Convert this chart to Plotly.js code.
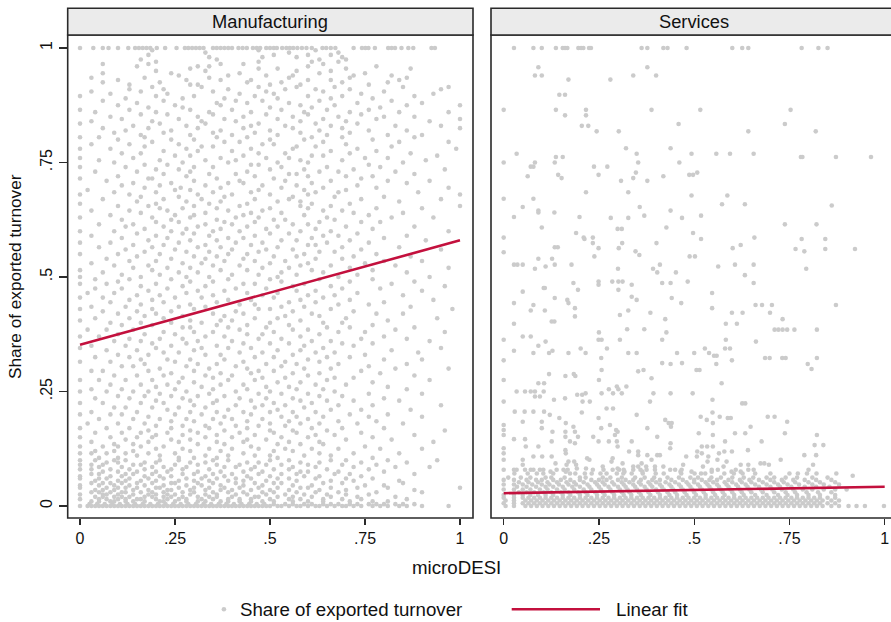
<!DOCTYPE html>
<html><head><meta charset="utf-8">
<script src="https://cdn.plot.ly/plotly-3.0.1.min.js"></script>
<style>html,body{margin:0;padding:0;background:#fff}#chart{width:891px;height:622px}</style>
</head><body><div id="chart"></div>
<script>
const panelTitles = ["Manufacturing", "Services"];
const xTickVals = [0, .25, .5, .75, 1];
const xTickText = ["0", ".25", ".5", ".75", "1"];
const yTickVals = [0, .25, .5, .75, 1];
const yTickText = ["0", ".25", ".5", ".75", "1"];
const xTitle = "microDESI";
const yTitle = "Share of exported turnover";
const legendLabels = ["Share of exported turnover", "Linear fit"];
const fitX = [0, 1];
const mfgFitY = [.352, .58];
const svcFitY = [.028, .042];

// Manufacturing: [share, [microDESI values]]
const mfgRows = [
[1,[0,.035,.06,.075,.1,.127,.145,.155,.165,.175,.185,.202,.224,.254,.276,.285,.295,.305,.315,.325,.35,.36,.37,.38,.39,.4,.417,.428,.439,.455,.465,.474,.49,.5,.51,.518,.532,.543,.552,.561,.572,.584,.596,.61,.638,.648,.66,.672,.72,.742,.751,.759,.776,.811,.82,.829,.846,.864,.877,.925,.934]],
[.995,[.19,.47,.62]],
[.99,[.33,.55,.68]],
[.985,[.18,.51,.6,.66]],
[.98,[.34,.48,.57,.69]],
[.975,[.16,.36,.63,.7]],
[.97,[.2,.47,.61,.68]],
[.965,[.06,.18,.37,.43,.64]],
[.96,[.15,.31,.34,.6,.78]],
[.955,[.29,.47,.52,.7,.87]],
[.95,[.2,.33,.57,.66]],
[.945,[.06,.24,.42,.63,.75]],
[.94,[.26,.39,.49,.56,.72,.82]],
[.935,[.03,.17,.34,.55,.71,.86]],
[.93,[.1,.28,.37,.45,.6,.66,.84]],
[.925,[.06,.21,.44,.53,.69,.81]],
[.92,[.13,.29,.31,.5,.58,.76]],
[.915,[.19,.32,.47,.57,.67,.85,.97]],
[.91,[.13,.22,.39,.54,.62,.71,.95]],
[.905,[.03,.16,.35,.49,.64,.8]],
[.9,[.08,.23,.42,.51,.74,.93]],
[.895,[0,.2,.3,.46,.6,.69,.88]],
[.89,[.12,.27,.38,.52,.66,.77]],
[.885,[.06,.22,.41,.48,.63,.82]],
[.88,[.15,.36,.44,.55,.73,.9]],
[.875,[.1,.25,.37,.58,.67,.86,1]],
[.87,[.18,.27,.5,.61,.79]],
[.865,[0,.13,.29,.4,.53,.65,.76]],
[.86,[.04,.2,.34,.45,.59,.71,.84,.97]],
[.855,[.16,.23,.35,.49,.6,.74]],
[.85,[.08,.31,.43,.56,.68,.8,.88]],
[.845,[.11,.26,.38,.52,.64,.78,1]],
[.84,[.03,.19,.32,.41,.58,.7,.92]],
[.835,[0,.21,.33,.47,.62,.73]],
[.83,[.14,.28,.45,.54,.66,.83,.95]],
[.825,[.06,.18,.31,.43,.56,.69,1]],
[.82,[.12,.24,.37,.5,.63,.76,.86]],
[.815,[.09,.22,.35,.46,.58,.71]],
[.81,[.16,.29,.4,.52,.65,.81,.9]],
[.805,[0,.05,.17,.36,.44,.61,.69,.88]],
[.8,[.1,.24,.3,.5,.59,.77]],
[.795,[.19,.38,.42,.64,.84,.97]],
[.79,[.03,.13,.26,.48,.51,.7]],
[.785,[.17,.32,.35,.57,.62,.82]],
[.78,[0,.08,.28,.45,.56,.73,.99]],
[.775,[.22,.31,.4,.66,.78]],
[.77,[.11,.16,.47,.54,.71,.87]],
[.765,[.25,.29,.43,.61,.64,.94]],
[.76,[0,.14,.37,.49,.55,.75,.81]],
[.755,[.05,.21,.33,.41,.58,.69,.91]],
[.75,[.09,.27,.39,.52,.6,.85]],
[.745,[.17,.23,.45,.47,.76]],
[.74,[0,.12,.3,.35,.53,.65,.79]],
[.735,[.2,.26,.5,.59,.72,.96]],
[.73,[.04,.15,.29,.44,.63,.68,.83]],
[.725,[.22,.34,.41,.55,.57,.88]],
[.72,[.1,.28,.46,.6,.7,.77]],
[.715,[0,.18,.19,.36,.51,.74]],
[.71,[.07,.3,.42,.54,.66,.81,.92]],
[.705,[.14,.24,.39,.43,.61,.86]],
[.7,[.11,.21,.33,.48,.57,.73]],
[.695,[.17,.265,.37,.53,.64,.78,.97]],
[.69,[.02,.25,.29,.47,.59,.7]],
[.685,[.09,.2,.35,.45,.62,.68,.89]],
[.68,[0,.13,.31,.4,.5,.6,1]],
[.675,[.16,.26,.38,.56,.67,.8]],
[.67,[.06,.22,.32,.46,.55,.74,.95]],
[.665,[.15,.28,.37,.52,.58,.84]],
[.66,[0,.2,.34,.44,.61,.71]],
[.655,[.1,.18,.3,.42,.58,.66,1]],
[.65,[.21,.27,.36,.5,.6,.78,.9]],
[.645,[.03,.13,.23,.39,.48,.64,.69]],
[.64,[.16,.33,.45,.53,.72,.85]],
[.635,[.08,.25,.3,.43,.59,.76]],
[.63,[0,.19,.29,.41,.47,.65,.82,.93]],
[.625,[.11,.24,.36,.51,.54,.67]],
[.62,[.2,.26,.38,.46,.63,.74,.79]],
[.615,[.05,.14,.33,.4,.56,.6]],
[.61,[.12,.22,.31,.44,.52,.7,.88]],
[.605,[.17,.28,.37,.49,.62,.77]],
[.6,[0,.09,.24,.35,.42,.58,.66,.97]],
[.595,[.15,.27,.3,.5,.55,.73]],
[.59,[.03,.2,.34,.46,.64,.68,.86]],
[.585,[.11,.23,.39,.43,.61,.8]],
[.58,[.18,.29,.36,.53,.57,.71,.91]],
[.575,[0,.08,.26,.41,.48,.65,.76]],
[.57,[.14,.22,.33,.45,.6,.62]],
[.565,[.05,.19,.31,.37,.52,.69,.84]],
[.56,[.12,.25,.4,.49,.56,.74,.95]],
[.555,[.17,.28,.34,.47,.63,.67]],
[.55,[0,.1,.21,.39,.44,.59,.78]],
[.545,[.15,.3,.36,.51,.57,.72,.87]],
[.54,[.07,.24,.33,.43,.62,.69]],
[.535,[.13,.2,.38,.46,.54,.8,.9]],
[.53,[.03,.27,.32,.5,.6,.75]],
[.525,[.09,.18,.35,.42,.58,.66,.83]],
[.52,[.14,.23,.29,.48,.55,.71,.97]],
[.515,[0,.19,.37,.44,.61,.77]],
[.51,[.06,.26,.31,.53,.64,.86]],
[.505,[.11,.21,.4,.47,.57,.73]],
[.5,[0,.16,.28,.34,.52,.68,.92]],
[.495,[.04,.13,.24,.39,.5,.63,.77]],
[.49,[.1,.29,.35,.53,.71,.88]],
[.485,[0,.07,.2,.43,.46,.59,.82]],
[.48,[.16,.27,.33,.56,.66,.96]],
[.475,[.04,.11,.23,.41,.49,.69,.79]],
[.47,[.18,.31,.38,.57,.62,.9]],
[.465,[.02,.09,.28,.44,.52,.73]],
[.46,[.15,.21,.35,.48,.6,.67,.85]],
[.455,[0,.06,.25,.32,.51,.64]],
[.45,[.13,.19,.39,.45,.58,.71,.93]],
[.445,[.08,.22,.36,.55,.62,.8]],
[.44,[.16,.29,.42,.46,.68,.76]],
[.435,[.03,.12,.26,.33,.53,.59,.87]],
[.43,[0,.19,.3,.47,.5,.66,.98]],
[.425,[.06,.15,.24,.41,.56,.72]],
[.42,[.1,.2,.35,.43,.61,.78,.85]],
[.415,[.17,.27,.38,.54,.63]],
[.41,[.04,.13,.22,.46,.52,.7,.94]],
[.405,[0,.29,.37,.4,.58,.81]],
[.4,[.08,.16,.24,.32,.5,.64,.69]],
[.395,[.11,.19,.36,.44,.55,.77]],
[.39,[.27,.29,.39,.49,.65,.71,.88]],
[.385,[.02,.07,.14,.42,.56,.6,.83]],
[.38,[.22,.3,.35,.51,.68,.75,.96]],
[.375,[.1,.17,.25,.44,.48,.63]],
[.37,[0,.05,.33,.38,.58,.8]],
[.365,[.13,.21,.27,.47,.53,.74,.86]],
[.36,[.09,.16,.31,.4,.61,.66,.92]],
[.355,[.19,.28,.43,.5,.55,.69,.77]],
[.35,[.03,.12,.24,.36,.59,.72]],
[.345,[0,.2,.32,.39,.45,.64,.95]],
[.34,[.07,.15,.3,.52,.58,.82]],
[.335,[.22,.26,.42,.48,.62,.67,.89]],
[.33,[.1,.18,.33,.37,.56,.75]],
[.325,[.04,.13,.46,.51,.65,.71]],
[.32,[.16,.23,.29,.38,.6,.8,.9]],
[.315,[0,.08,.25,.43,.54,.63]],
[.31,[.17,.31,.36,.49,.57,.68,.86]],
[.305,[.11,.14,.28,.41,.53,.76]],
[.3,[.21,.34,.44,.59,.66,.83,.97]],
[.295,[.03,.06,.18,.3,.47,.51,.74]],
[.29,[.24,.37,.45,.56,.63,.79]],
[.285,[.09,.15,.22,.33,.4,.6,.88]],
[.28,[.27,.35,.48,.54,.67,.72]],
[.275,[0,.05,.12,.19,.39,.46,.65,.92]],
[.27,[.26,.3,.52,.58,.77]],
[.265,[.08,.16,.23,.37,.43,.62,.7]],
[.26,[.2,.32,.49,.55,.81]],
[.255,[.03,.11,.25,.35,.44,.57,.64,.86]],
[.25,[0,.07,.14,.18,.28,.41,.5,.67]],
[.245,[.21,.34,.47,.53,.6,.76,.9]],
[.24,[.1,.17,.24,.31,.38,.63,.69]],
[.235,[.04,.13,.27,.42,.49,.56,.8]],
[.23,[.2,.29,.36,.45,.58,.65,.72,.84]],
[.225,[0,.06,.16,.22,.35,.51,.61]],
[.22,[.3,.41,.48,.54,.68,.77,.95]],
[.215,[.09,.12,.19,.26,.33,.46,.59]],
[.21,[.23,.39,.52,.66,.74,.87]],
[.205,[.03,.15,.29,.36,.43,.5,.56,.62]],
[.2,[0,.08,.11,.25,.32,.45,.71,.81]],
[.195,[.18,.38,.53,.57,.64,.76,.9]],
[.19,[.05,.14,.21,.28,.35,.4,.48,.6]],
[.185,[.24,.3,.44,.55,.68,.78]],
[.18,[.02,.1,.17,.37,.5,.58,.63,.73,.85]],
[.175,[.2,.27,.33,.41,.47,.54]],
[.17,[0,.07,.13,.24,.34,.44,.61,.69,.8]],
[.165,[.18,.29,.38,.5,.56,.65,.96]],
[.16,[.04,.11,.16,.23,.31,.42,.51,.57,.74]],
[.155,[.2,.27,.36,.46,.62,.67,.88]],
[.15,[0,.08,.15,.19,.33,.4,.53,.6,.77]],
[.145,[.12,.24,.29,.44,.49,.7,.82]],
[.14,[.03,.18,.26,.36,.43,.55,.63,.93]],
[.135,[.09,.14,.31,.38,.52,.58,.64]],
[.13,[0,.06,.1,.16,.22,.45,.75]],
[.125,[.2,.27,.34,.4,.47,.54,.61,.68,.79,.9]],
[.12,[.04,.09,.14,.29,.37,.51,.56]],
[.115,[0,.03,.07,.12,.18,.25,.43,.63,.72,.84]],
[.11,[.15,.21,.33,.39,.46,.5,.59,.66]],
[.105,[.05,.1,.26,.3,.36,.52,.77]],
[.1,[0,.04,.09,.12,.21,.26,.35,.39,.5,.55,.66,.7,.81,.94]],
[.095,[.07,.1,.17,.2,.29,.33,.44,.47,.58,.63,.74,.86]],
[.09,[0,.03,.06,.14,.16,.25,.31,.36,.42,.49,.53,.6,.69,.78]],
[.085,[.05,.11,.19,.22,.28,.38,.41,.46,.56,.62,.72,.83,.92]],
[.08,[0,.03,.08,.13,.17,.24,.27,.34,.45,.51,.55,.65,.76]],
[.075,[.06,.1,.15,.2,.23,.31,.37,.43,.48,.58,.6,.68,.8]],
[.07,[.03,.05,.12,.14,.19,.27,.3,.35,.4,.47,.53,.57,.67,.71,.88]],
[.065,[0,.08,.11,.17,.21,.24,.33,.38,.44,.5,.59,.63,.74]],
[.06,[0,.05,.07,.13,.18,.22,.28,.32,.36,.41,.45,.52,.55,.62,.7,.77]],
[.055,[.04,.1,.12,.16,.2,.26,.3,.34,.39,.43,.49,.57,.66,.72,.84]],
[.05,[.03,.06,.08,.11,.15,.19,.24,.25,.31,.35,.41,.46,.51,.53,.64,.69,.85]],
[.045,[0,.05,.09,.13,.17,.22,.28,.32,.37,.43,.48,.56,.61,.75,.8]],
[.04,[0,.07,.1,.12,.15,.2,.21,.26,.3,.34,.38,.42,.47,.52,.58,.6,.66,.73,.81,1]],
[.035,[.04,.06,.09,.14,.18,.23,.24,.29,.33,.37,.4,.45,.5,.55,.63,.7,.88]],
[.03,[.03,.05,.08,.11,.12,.16,.19,.22,.27,.3,.35,.39,.43,.48,.51,.57,.62,.68,.78,.9]],
[.025,[0,.06,.07,.1,.14,.18,.2,.23,.25,.29,.33,.36,.41,.44,.49,.54,.59,.65,.7,.76]],
[.02,[.04,.06,.09,.11,.13,.17,.19,.22,.24,.27,.31,.34,.36,.4,.46,.47,.52,.56,.61,.66,.73,.83]],
[.015,[0,.05,.07,.1,.12,.15,.16,.2,.23,.26,.28,.32,.35,.39,.42,.45,.5,.55,.58,.64,.69,.74,.86]],
[.01,[.03,.05,.08,.09,.12,.14,.17,.21,.22,.25,.28,.31,.33,.37,.39,.42,.45,.48,.51,.56,.6,.64,.71,.77,.81]],
[.004,[.025,.045,.065,.085,.105,.125,.145,.165,.185,.205,.225,.245,.265,.285,.305,.325,.345,.365,.385,.405,.425,.445,.465,.485,.51,.54,.56,.59,.61,.64,.66,.68,.71,.73,.76,.78,.8,.83,.85,.88]],
[0,[0,.02,.03,.04,.05,.06,.07,.08,.09,.1,.11,.12,.13,.14,.15,.16,.17,.18,.19,.2,.21,.22,.23,.24,.25,.26,.27,.28,.29,.3,.31,.32,.33,.34,.35,.36,.37,.38,.39,.4,.41,.42,.43,.44,.45,.46,.47,.48,.49,.5,.52,.53,.55,.57,.58,.6,.62,.63,.65,.67,.69,.7,.72,.74,.77,.79,.81,.84,.86,.9,.97]]
];

// Services: [share, [microDESI values]]
const svcRows = [
[1,[.027,.078,.1,.137,.155,.161,.167,.196,.203,.209,.224,.229,.362,.377,.419,.43,.48,.6,.626,.642,.782,.826,.85]],
[.958,[.091,.377]],
[.94,[.082,.1,.34,.4]],
[.931,[.17,.28]],
[.898,[.146,.161]],
[.865,[0,.137,.216,.388,.516,.753]],
[.853,[.161,.216]],
[.834,[.459,.738]],
[.83,[.205,.222]],
[.818,[.244,.302,.642,.819]],
[.781,[.321,.438]],
[.769,[.034,.349,.493,.558,.594,.656]],
[.762,[.137,.155,.78,.784,.872,.964]],
[.75,[0,.082,.134,.353,.461]],
[.741,[.071,.078,.237,.272]],
[.728,[.347,.508]],
[.723,[.143,.249,.487,.497]],
[.72,[.063,.419]],
[.716,[.152,.34]],
[.71,[.308,.377]],
[.685,[.216,.327]],
[.678,[.493,.587]],
[.671,[0,.078]],
[.659,[.573,.633]],
[.656,[.861]],
[.653,[.05,.357]],
[.645,[.091,.438]],
[.641,[.091,.133]],
[.634,[.369,.518]],
[.631,[.027,.199]],
[.629,[.281,.327,.468]],
[.615,[.738,.821]],
[.608,[.1,.427]],
[.605,[.299,.31]],
[.596,[.19,.497]],
[.586,[0,.21,.234,.658]],
[.583,[.212,.518,.782,.844]],
[.574,[.234,.311,.401]],
[.57,[.622]],
[.565,[.134,.142]],
[.563,[.249,.302,.601]],
[.561,[.766,.844,.922]],
[.556,[.346,.789]],
[.554,[0]],
[.548,[.356]],
[.545,[.238,.488,.502]],
[.54,[.091,.127]],
[.527,[.027,.036,.05,.134,.178,.41,.607,.656]],
[.523,[.11,.563]],
[.518,[.082,.3,.392,.794]],
[.51,[.403,.452]],
[.504,[.633]],
[.49,[.249,.285,.301,.312,.483]],
[.487,[.183,.416,.438,.656]],
[.483,[.249,.336]],
[.476,[.105,.108]],
[.472,[.195,.301]],
[.468,[.05]],
[.465,[.547]],
[.457,[.336]],
[.454,[.134,.441]],
[.45,[.167,.349]],
[.443,[.027,.17,.466]],
[.439,[.078,.661,.678,.704,.872]],
[.432,[.187,.547]],
[.427,[.071,.108,.327]],
[.422,[.385,.599,.627,.699]],
[.417,[.305]],
[.414,[.187]],
[.408,[.424,.732]],
[.403,[.126,.133]],
[.398,[.027,.583,.612]],
[.386,[.324,.369]],
[.385,[.711,.721,.732,.744,.763,.822]],
[.379,[.25,.427]],
[.37,[.05,.071]],
[.363,[0,.249,.257,.305,.416,.583]],
[.359,[.11,.662]],
[.35,[.091]],
[.344,[.202,.271,.528,.581,.594]],
[.339,[.027,.128]],
[.334,[.078,.119,.17,.215,.327,.349,.455,.5,.539]],
[.328,[.552,.559]],
[.323,[.256,.686,.698,.731,.74,.822]],
[.318,[0,.599]],
[.312,[.416,.468]],
[.31,[.438,.558,.798]],
[.299,[.808]],
[.297,[.257,.367,.506,.514]],
[.294,[.353]],
[.288,[.119,.184]],
[.284,[.162,.188]],
[.279,[.388]],
[.275,[0,.25]],
[.268,[.091,.106,.572]],
[.261,[.297,.322]],
[.255,[.276,.301]],
[.25,[.034,.056,.071,.082,.105]],
[.246,[.215,.257,.287,.31,.393,.438,.496]],
[.243,[.193,.206]],
[.239,[.082,.095]],
[.235,[.161]],
[.232,[.132,.548]],
[.228,[0,.207,.226,.384]],
[.224,[.626,.634]],
[.213,[.27,.287]],
[.206,[.029,.055,.078,.106]],
[.204,[.205,.548]],
[.199,[.121,.349]],
[.195,[.517,.567,.693,.711]],
[.192,[.146,.249,.588,.596]],
[.188,[.424,.533]],
[.184,[.05,.1,.744]],
[.181,[.163,.433,.441,.549]],
[.177,[0,.279]],
[.173,[.183,.439,.648]],
[.17,[.1,.256,.377]],
[.166,[0,.295]],
[.162,[.128,.162,.187,.299]],
[.159,[.512,.607,.634,.738]],
[.155,[0,.292,.549,.822]],
[.151,[.162,.195,.235,.403]],
[.146,[.027,.056]],
[.141,[.126,.174,.249,.276,.297,.336,.581,.677]],
[.137,[.187,.438]],
[.133,[.816,.839]],
[.13,[.058,.091,.299,.52,.534,.549]],
[.126,[0,.437]],
[.122,[.162,.641]],
[.119,[.329,.353,.508,.579,.599]],
[.115,[0,.163,.52,.565]],
[.111,[.353,.377,.403,.41,.789,.82]],
[.108,[.078,.101,.126,.479,.507,.537]],
[.104,[.219,.286]],
[.101,[0,.05,.225,.388,.561,.727]],
[.097,[.17,.185,.283,.535,.585]],
[.093,[.136,.312,.362,.674,.684]],
[.09,[.05,.165,.19,.471,.622,.642,.696,.812]],
[.086,[.26,.34,.353,.374,.397,.419,.523,.577]],
[.082,[.192,.216,.299]],
[.079,[0,.027,.034,.056,.071,.078,.095,.104,.139,.157,.168,.234,.262,.286,.303,.315,.34,.359,.375,.397,.437,.45,.467,.546,.562,.609,.642,.656,.8]],
[.075,[.123,.163,.317,.364,.464,.493,.546,.598,.622]],
[.071,[.028,.063,.087,.104,.13,.174,.188,.213,.231,.254,.27,.297,.314,.336,.365,.399,.42,.466,.501,.518,.529,.579,.604,.627,.66,.7,.75,.772,.796,.821,.873]],
[.066,[.916]],
[.062,[.012,.045,.07,.11,.125,.16,.2,.215,.26,.28,.31,.345,.37,.395,.43,.46,.49,.51,.545,.57,.6,.63,.655,.69,.71,.74,.77,.81,.85]],
[.057,[0,.027,.06,.085,.1,.13,.15,.175,.2,.23,.25,.27,.3,.32,.34,.36,.39,.41,.44,.47,.5,.52,.54,.56,.59,.62,.645,.67,.7,.73,.76,.79,.82,.86]],
[.052,[.04,.065,.09,.115,.14,.165,.185,.21,.24,.26,.285,.31,.33,.355,.38,.4,.425,.45,.48,.5,.53,.55,.58,.6,.625,.65,.68,.71,.735,.765,.8,.83,.87]],
[.047,[0,.027,.05,.075,.1,.12,.145,.17,.19,.22,.245,.265,.29,.315,.34,.36,.385,.41,.435,.46,.485,.51,.535,.56,.585,.61,.635,.66,.69,.72,.745,.775,.81,.84,.88]],
[.042,[.035,.06,.085,.11,.13,.155,.18,.2,.225,.25,.275,.3,.32,.345,.37,.39,.415,.44,.465,.49,.515,.54,.565,.59,.615,.64,.67,.7,.725,.755,.79,.82,.855]],
[.036,[0,.027,.05,.07,.095,.115,.14,.16,.185,.21,.23,.255,.28,.305,.325,.35,.375,.4,.42,.445,.47,.495,.52,.545,.57,.595,.62,.645,.675,.705,.73,.76,.785,.81,.84,.87,.9]],
[.03,[.04,.06,.08,.105,.125,.15,.17,.195,.215,.24,.26,.285,.31,.33,.355,.38,.405,.43,.45,.475,.5,.525,.55,.575,.6,.625,.65,.68,.71,.74,.765,.795,.825,.86]],
[.024,[0,.027,.05,.07,.09,.11,.13,.155,.175,.2,.22,.245,.265,.29,.315,.335,.36,.385,.41,.435,.455,.48,.505,.53,.555,.58,.605,.63,.66,.69,.72,.745,.77,.8,.83,.87]],
[.018,[0,.027,.05,.065,.08,.095,.11,.125,.14,.155,.17,.185,.2,.215,.23,.245,.26,.275,.29,.305,.32,.335,.35,.365,.38,.395,.41,.425,.44,.455,.47,.485,.5,.515,.53,.545,.56,.575,.59,.605,.62,.635,.65,.665,.68,.695,.71,.725,.74,.755,.77,.785,.8,.815,.83,.85,.87]],
[.012,[.005,.027,.057,.072,.087,.102,.117,.132,.147,.162,.177,.192,.207,.222,.237,.252,.267,.282,.297,.312,.327,.342,.357,.372,.387,.402,.417,.432,.447,.462,.477,.492,.507,.522,.537,.552,.567,.582,.597,.612,.627,.642,.657,.672,.687,.702,.717,.732,.747,.762,.777,.792,.807,.822,.837,.86,.88]],
[.006,[0,.027,.05,.065,.08,.095,.11,.125,.14,.155,.17,.185,.2,.215,.23,.245,.26,.275,.29,.305,.32,.335,.35,.365,.38,.395,.41,.425,.44,.455,.47,.485,.5,.515,.53,.545,.56,.575,.59,.605,.62,.635,.65,.665,.68,.695,.71,.725,.74,.755,.77,.785,.8,.815,.83,.85,.87]],
[0,[.005,.027,.057,.072,.087,.102,.117,.132,.147,.162,.177,.192,.207,.222,.237,.252,.267,.282,.297,.312,.327,.342,.357,.372,.387,.402,.417,.432,.447,.462,.477,.492,.507,.522,.537,.552,.567,.582,.597,.612,.627,.642,.657,.672,.687,.702,.717,.732,.747,.762,.777,.792,.807,.822,.837,.86,.88,.905,.926,.948,.998]]
];

function unpack(rows) {
  const x = [], y = [];
  rows.forEach(function (r) { r[1].forEach(function (v) { x.push(v); y.push(r[0]); }); });
  return {x: x, y: y};
}
const mfg = unpack(mfgRows), svc = unpack(svcRows);

const W = 891, H = 622;
const px = v => v / W, py = v => 1 - v / H;
const dotColor = '#cbcbcb', fitColor = '#c3103d', frameColor = '#2a2a2a';
const FONT = '"Liberation Sans", Arial, Helvetica, sans-serif';

const dotMarker = {size: 4.6, color: dotColor, line: {width: 0}};
const traces = [
  {type: 'scatter', mode: 'markers', x: mfg.x, y: mfg.y, xaxis: 'x', yaxis: 'y', marker: dotMarker, hoverinfo: 'skip', showlegend: false},
  {type: 'scatter', mode: 'markers', x: svc.x, y: svc.y, xaxis: 'x2', yaxis: 'y', marker: dotMarker, hoverinfo: 'skip', showlegend: false},
  {type: 'scatter', mode: 'lines', x: fitX, y: mfgFitY, xaxis: 'x', yaxis: 'y', line: {color: fitColor, width: 2.6}, hoverinfo: 'skip', showlegend: false},
  {type: 'scatter', mode: 'lines', x: fitX, y: svcFitY, xaxis: 'x2', yaxis: 'y', line: {color: fitColor, width: 2.6}, hoverinfo: 'skip', showlegend: false}
];

const xAxisCommon = {
  tickvals: xTickVals, ticktext: xTickText, ticks: 'outside', ticklen: 6, tickwidth: 1.3, tickcolor: frameColor,
  showgrid: false, zeroline: false, showline: false, tickfont: {size: 16, color: '#111', family: FONT}, anchor: 'y', fixedrange: true
};

const layout = {
  width: W, height: H, margin: {l: 0, r: 0, t: 0, b: 0}, paper_bgcolor: '#fff', plot_bgcolor: '#fff',
  showlegend: false, font: {family: FONT, color: '#111'},
  xaxis: Object.assign({}, xAxisCommon, {domain: [px(67.7), px(473)], range: [-0.0324, 1.0342]}),
  xaxis2: Object.assign({}, xAxisCommon, {domain: [px(491), 1], range: [-0.0333, 1.0165]}),
  yaxis: {
    domain: [py(518), py(35)], range: [-0.0262, 1.0284], anchor: 'x',
    tickvals: yTickVals, ticktext: yTickText, tickangle: -90, ticks: 'outside', ticklen: 8, tickwidth: 1.3, tickcolor: frameColor,
    showgrid: false, zeroline: false, showline: false, tickfont: {size: 16, color: '#111', family: FONT}, fixedrange: true
  },
  shapes: [
    {type: 'rect', xref: 'paper', yref: 'paper', x0: px(67.7), x1: px(473), y0: py(518), y1: py(35), line: {color: frameColor, width: 1.6}, layer: 'above'},
    {type: 'rect', xref: 'paper', yref: 'paper', x0: px(491), x1: px(898), y0: py(518), y1: py(35), line: {color: frameColor, width: 1.6}, layer: 'above'},
    {type: 'rect', xref: 'paper', yref: 'paper', x0: px(67.7), x1: px(473), y0: py(35), y1: py(8.3), fillcolor: '#ebebeb', line: {color: frameColor, width: 1.6}},
    {type: 'rect', xref: 'paper', yref: 'paper', x0: px(491), x1: px(898), y0: py(35), y1: py(8.3), fillcolor: '#ebebeb', line: {color: frameColor, width: 1.6}},
    {type: 'circle', xref: 'paper', yref: 'paper', x0: px(221.6), x1: px(226.2), y0: py(611.6), y1: py(607), fillcolor: dotColor, line: {width: 0}},
    {type: 'line', xref: 'paper', yref: 'paper', x0: px(511.7), x1: px(600), y0: py(609.3), y1: py(609.3), line: {color: fitColor, width: 2.6}}
  ],
  annotations: [
    {text: panelTitles[0], xref: 'paper', yref: 'paper', x: px(270.3), y: py(21.7), xanchor: 'center', yanchor: 'middle', showarrow: false, font: {size: 18.3, color: '#111', family: FONT}},
    {text: panelTitles[1], xref: 'paper', yref: 'paper', x: px(694), y: py(21.7), xanchor: 'center', yanchor: 'middle', showarrow: false, font: {size: 18.3, color: '#111', family: FONT}},
    {text: yTitle, xref: 'paper', yref: 'paper', x: px(15), y: py(277), xanchor: 'center', yanchor: 'middle', textangle: -90, showarrow: false, font: {size: 17.2, color: '#111', family: FONT}},
    {text: xTitle, xref: 'paper', yref: 'paper', x: px(456.7), y: py(567.5), xanchor: 'center', yanchor: 'middle', showarrow: false, font: {size: 18.7, color: '#111', family: FONT}},
    {text: legendLabels[0], xref: 'paper', yref: 'paper', x: px(238), y: py(609), xanchor: 'left', yanchor: 'middle', showarrow: false, font: {size: 18.7, color: '#111', family: FONT}},
    {text: legendLabels[1], xref: 'paper', yref: 'paper', x: px(614), y: py(609), xanchor: 'left', yanchor: 'middle', showarrow: false, font: {size: 18.7, color: '#111', family: FONT}}
  ]
};

Plotly.newPlot('chart', traces, layout, {staticPlot: true, displayModeBar: false});
</script>
</body></html>
